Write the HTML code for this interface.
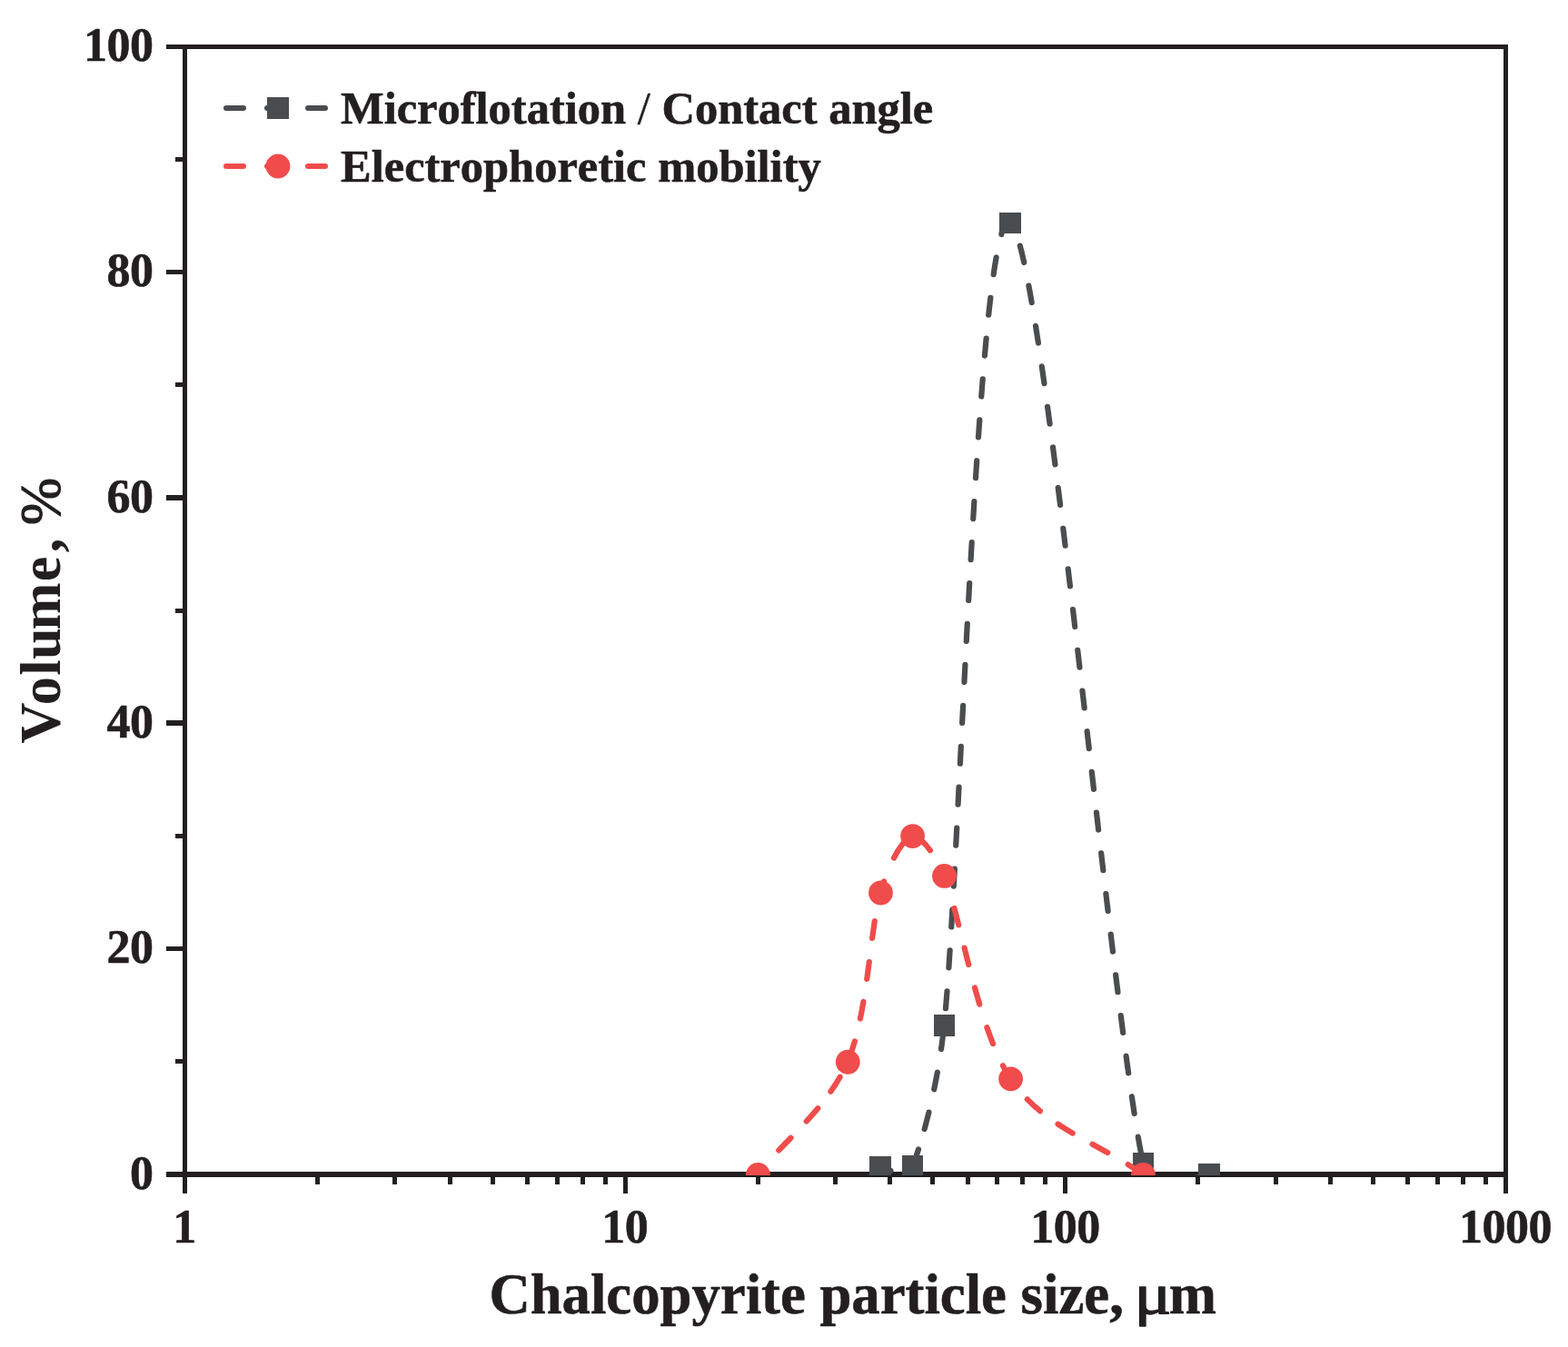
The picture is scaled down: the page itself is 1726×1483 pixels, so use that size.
<!DOCTYPE html>
<html lang="en"><head><meta charset="utf-8"><title>Figure</title>
<style>html,body{margin:0;padding:0;background:#fff}body{width:1726px;height:1483px;overflow:hidden}svg{display:block}text{font-family:"Liberation Serif","DejaVu Serif",serif;font-weight:bold;fill:#231f20;stroke:#231f20;stroke-width:0.6px;stroke-linejoin:round;font-variant-ligatures:none;font-kerning:none}</style></head><body>
<svg width="1726" height="1483" viewBox="0 0 1726 1483">
<rect width="1726" height="1483" fill="#fff"/>
<defs><clipPath id="plot"><rect x="203.5" y="51.5" width="1454" height="1242.5"/></clipPath></defs>
<g fill="#231f20">
<rect x="183" y="49" width="1477" height="5"/>
<rect x="183" y="1290" width="1477" height="6"/>
<rect x="201" y="49" width="5" height="1265"/>
<rect x="1655" y="49" width="5" height="1265"/>
<rect x="193" y="1166" width="10" height="5"/>
<rect x="183" y="1042" width="20" height="5"/>
<rect x="193" y="918" width="10" height="5"/>
<rect x="183" y="793" width="20" height="6"/>
<rect x="193" y="670" width="10" height="5"/>
<rect x="183" y="545" width="20" height="6"/>
<rect x="193" y="421" width="10" height="5"/>
<rect x="183" y="297" width="20" height="5"/>
<rect x="193" y="173" width="10" height="5"/>
<rect x="347" y="1293" width="5" height="11"/>
<rect x="432" y="1293" width="5" height="11"/>
<rect x="493" y="1293" width="5" height="11"/>
<rect x="540" y="1293" width="5" height="11"/>
<rect x="578" y="1293" width="5" height="11"/>
<rect x="611" y="1293" width="5" height="11"/>
<rect x="639" y="1293" width="5" height="11"/>
<rect x="664" y="1293" width="5" height="11"/>
<rect x="686" y="1293" width="5" height="21"/>
<rect x="832" y="1293" width="5" height="11"/>
<rect x="917" y="1293" width="5" height="11"/>
<rect x="977" y="1293" width="5" height="11"/>
<rect x="1024" y="1293" width="5" height="11"/>
<rect x="1063" y="1293" width="5" height="11"/>
<rect x="1095" y="1293" width="5" height="11"/>
<rect x="1123" y="1293" width="5" height="11"/>
<rect x="1148" y="1293" width="5" height="11"/>
<rect x="1170" y="1293" width="5" height="21"/>
<rect x="1316" y="1293" width="5" height="11"/>
<rect x="1402" y="1293" width="5" height="11"/>
<rect x="1462" y="1293" width="5" height="11"/>
<rect x="1509" y="1293" width="5" height="11"/>
<rect x="1547" y="1293" width="5" height="11"/>
<rect x="1580" y="1293" width="5" height="11"/>
<rect x="1608" y="1293" width="5" height="11"/>
<rect x="1633" y="1293" width="5" height="11"/>
</g>
<g font-size="52" text-anchor="end" style="letter-spacing:-0.5px">
<text x="168.6" y="1308.6">0</text>
<text x="168.6" y="1060.3">20</text>
<text x="168.6" y="812">40</text>
<text x="168.6" y="563.7">60</text>
<text x="168.6" y="315.4">80</text>
<text x="168.6" y="67.1">100</text>
</g>
<g font-size="52" text-anchor="middle" style="letter-spacing:-0.5px">
<text x="203.1" y="1368.3">1</text>
<text x="687.77" y="1368.3">10</text>
<text x="1172.43" y="1368.3">100</text>
<text x="1657.1" y="1368.3">1000</text>
</g>
<text x="538.4" y="1445.8" font-size="62.72">Chalcopyrite particle size, </text>
<text transform="translate(1248.6 1445.8) scale(1.22 1)" font-size="62.72" style="font-weight:normal;stroke-width:1.3px">μ</text>
<text x="1286.8" y="1445.8" font-size="62.72">m</text>
<text transform="translate(65.8 818.1) rotate(-90)" font-size="62.5" style="stroke-width:0px" x="-0.7 41.8 74.4 92 124.5 177.9 209.9 225">Volume, <tspan style="font-weight:normal;stroke-width:1.2px" x="240">%</tspan></text>
<path d="M249,119H363" stroke="#494d50" stroke-width="6" stroke-linecap="round" stroke-dasharray="19 26" fill="none"/>
<rect x="294" y="107" width="24" height="24" fill="#494d50"/>
<path d="M249,183H363" stroke="#f04c4b" stroke-width="6" stroke-linecap="round" stroke-dasharray="19 26" fill="none"/>
<circle cx="306" cy="183" r="13.4" fill="#f04c4b"/>
<g font-size="50.5" style="letter-spacing:0px">
<text x="375" y="135.6">Microflotation <tspan font-weight="normal">/</tspan> Contact angle</text>
<text x="375" y="199.6">Electrophoretic mobility</text>
</g>
<g clip-path="url(#plot)">
<path d="M969.17,1284.81Q974.84,1286.67 980.42,1288.92M1004.59,1283.37Q1008.14,1274.56 1010.99,1265.49M1017.67,1243.01Q1020.19,1233.85 1022.46,1224.63M1028.2,1199.27Q1030.14,1189.97 1031.83,1180.62M1036,1154.96Q1037.35,1145.55 1038.43,1136.12M1040.98,1110.24Q1041.79,1100.78 1042.52,1091.3M1044.38,1065.37Q1045.03,1055.89 1045.63,1046.41M1047.23,1020.46Q1047.8,1010.98 1048.35,1001.49M1049.81,975.54Q1050.34,966.05 1050.85,956.56M1052.24,930.6Q1052.74,921.11 1053.23,911.63M1054.57,885.66Q1055.06,876.17 1055.54,866.69M1056.86,840.72Q1057.34,831.23 1057.82,821.74M1059.14,795.78Q1059.62,786.29 1060.11,776.8M1061.43,750.84Q1061.92,741.35 1062.41,731.86M1063.76,705.9Q1064.26,696.41 1064.76,686.92M1066.16,660.96Q1066.67,651.47 1067.19,641.99M1068.64,616.03Q1069.17,606.54 1069.72,597.06M1071.24,571.1Q1071.8,561.62 1072.38,552.14M1074,526.19Q1074.6,516.71 1075.23,507.23M1076.97,481.29Q1077.63,471.81 1078.31,462.33M1080.23,436.41Q1080.96,426.93 1081.72,417.46M1083.91,391.56Q1084.74,382.09 1085.63,372.63M1088.21,346.76Q1089.21,337.32 1090.33,327.88M1093.67,302.1Q1095.01,292.69 1096.65,283.33M1102.37,257.99Q1104.02,246.09 1113.18,246.57M1122.79,270.54Q1125.23,279.72 1127.24,289.01M1132.38,314.5Q1134.12,323.83 1135.74,333.2M1140,358.84Q1141.5,368.22 1142.94,377.62M1146.78,403.33Q1148.15,412.73 1149.48,422.14M1153.06,447.89Q1154.35,457.3 1155.6,466.72M1159.01,492.49Q1160.24,501.92 1161.45,511.34M1164.73,537.13Q1165.91,546.56 1167.08,555.98M1170.27,581.79Q1171.43,591.22 1172.57,600.65M1175.69,626.46Q1176.82,635.89 1177.94,645.33M1181.01,671.14Q1182.12,680.58 1183.23,690.01M1186.25,715.84Q1187.36,725.27 1188.46,734.71M1191.46,760.54Q1192.55,769.97 1193.64,779.41M1196.63,805.24Q1197.72,814.68 1198.8,824.11M1201.79,849.94Q1202.87,859.38 1203.96,868.82M1206.95,894.64Q1208.04,904.08 1209.14,913.52M1212.15,939.34Q1213.25,948.78 1214.35,958.21M1217.39,984.04Q1218.5,993.47 1219.62,1002.9M1222.71,1028.72Q1223.84,1038.15 1224.99,1047.58M1228.14,1073.39Q1229.3,1082.82 1230.48,1092.25M1233.74,1118.04Q1234.95,1127.47 1236.17,1136.89M1239.59,1162.66Q1240.86,1172.08 1242.16,1181.48M1245.83,1207.22Q1247.21,1216.62 1248.65,1226.01M1252.79,1251.68Q1254.38,1261.05 1256.15,1270.38M1265.8,1293.85Q1273.61,1299.66 1283.39,1300.24M1309.23,1298.34Q1318.55,1296.45 1327.67,1293.77" stroke="#494d50" stroke-width="6.2" stroke-linecap="round" stroke-linejoin="round" fill="none"/>
<g fill="#494d50">
<rect x="957" y="1273" width="24" height="24"/>
<rect x="993" y="1272" width="23" height="24"/>
<rect x="1028" y="1117" width="23" height="24"/>
<rect x="1100" y="234" width="24" height="23"/>
<rect x="1247" y="1269" width="23" height="24"/>
<rect x="1319" y="1281" width="24" height="24"/>
</g>
<path d="M834.07,1293Q837.03,1289.29 840.1,1285.66M857.36,1266.49Q863.89,1259.59 870.48,1252.75M887.72,1234.51Q894.16,1227.52 900.26,1220.23M914.44,1201.75Q919.88,1193.96 924.58,1185.69M934.82,1164.45Q938.29,1155.6 940.89,1146.46M946.95,1121.49Q948.85,1112.18 950.43,1102.81M954.24,1077.9Q955.55,1068.49 956.77,1059.07M960.17,1032.89Q961.41,1023.47 962.83,1014.08M967.62,988.53Q969.92,979.3 973.06,970.33M984.04,944.49Q988.35,935.99 994.17,928.45M1010.94,922.47Q1018.44,928.39 1023.91,936.25M1035.13,954.91Q1039.32,963.45 1042.32,972.48M1050.43,999.9Q1052.87,1009.08 1055.2,1018.3M1061.56,1043.61Q1063.87,1052.82 1066.23,1062.02M1073,1087.44Q1075.53,1096.6 1078.25,1105.7M1086.42,1131.22Q1089.52,1140.2 1093.02,1149.04M1104.01,1173.36Q1108.37,1181.81 1113.76,1189.65M1130.87,1210.36Q1137.53,1217.15 1144.88,1223.18M1164.54,1237.61Q1172.48,1242.83 1180.69,1247.62M1202.51,1259.83Q1210.86,1264.36 1219.18,1268.93M1241.75,1282.04Q1249.84,1287.03 1257.57,1292.56" stroke="#f04c4b" stroke-width="6.2" stroke-linecap="round" stroke-linejoin="round" fill="none"/>
<g fill="#f04c4b">
<circle cx="834.37" cy="1293.4" r="13.4"/>
<circle cx="933.3" cy="1169.25" r="13.4"/>
<circle cx="969.47" cy="983.02" r="13.4"/>
<circle cx="1004.59" cy="920.58" r="13.4"/>
<circle cx="1039.5" cy="964.4" r="13.4"/>
<circle cx="1112.58" cy="1187.87" r="13.4"/>
<circle cx="1258.48" cy="1293.4" r="13.4"/>
</g>
</g>
</svg></body></html>
